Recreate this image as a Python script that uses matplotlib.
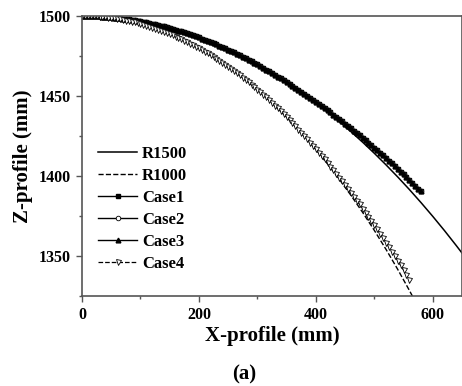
import numpy as np
import matplotlib
matplotlib.use("Agg")
import matplotlib.pyplot as plt
from matplotlib.ticker import MultipleLocator

plt.rcParams['font.family'] = ['Liberation Serif', 'DejaVu Serif']
plt.rcParams['font.weight'] = 'bold'

# R1500 reference curve
r1500_x = [0, 20, 40, 60, 80, 100, 120, 140, 160, 180, 200, 220, 240, 260, 280, 300,
           320, 340, 360, 380, 400, 420, 440, 460, 480, 500, 520, 540, 560, 580, 600,
           620, 640, 650]
r1500_z = [1500.0, 1499.87, 1499.47, 1498.80, 1497.87, 1496.66, 1495.19, 1493.45, 1491.44,
           1489.16, 1486.61, 1483.78, 1480.68, 1477.30, 1473.64, 1469.69, 1465.46, 1460.96,
           1456.16, 1451.07, 1445.68, 1440.00, 1434.01, 1427.72, 1421.13, 1414.21, 1406.98,
           1399.43, 1391.55, 1383.33, 1374.77, 1365.88, 1356.61, 1351.85]

# R1000 reference curve
r1000_x = [0, 20, 40, 60, 80, 100, 120, 140, 160, 180, 200, 220, 240, 260, 280, 300,
           320, 340, 360, 380, 400, 420, 440, 460, 480, 500, 520, 540, 560, 570]
r1000_z = [1500.0, 1499.80, 1499.20, 1498.20, 1496.79, 1494.99, 1492.77, 1490.15, 1487.12,
           1483.67, 1479.80, 1475.50, 1470.77, 1465.60, 1460.00, 1453.94, 1447.42, 1440.43,
           1432.95, 1424.98, 1416.52, 1407.52, 1398.00, 1387.92, 1377.27, 1366.03, 1354.17,
           1341.67, 1328.49, 1321.6]

# Case1-3 (on top of each other in the figure), x = 0..580 step 5
case_x = list(range(0, 585, 5))
case1_z = [
    1500.0, 1499.99, 1499.97, 1499.92, 1499.87, 1499.79, 1499.70, 1499.59, 1499.47, 1499.33,
    1499.17, 1498.99, 1498.80, 1498.59, 1498.37, 1498.12, 1497.87, 1497.59, 1497.30, 1496.99,
    1496.66, 1496.32, 1495.96, 1495.59, 1495.19, 1494.78, 1494.36, 1493.91, 1493.45, 1492.98,
    1492.48, 1491.97, 1491.44, 1490.90, 1490.34, 1489.76, 1489.16, 1488.55, 1487.92, 1487.27,
    1486.61, 1485.93, 1485.23, 1484.51, 1483.78, 1483.03, 1482.26, 1481.48, 1480.68, 1479.86,
    1479.02, 1478.17, 1477.30, 1476.41, 1475.50, 1474.58, 1473.64, 1472.68, 1471.70, 1470.71,
    1469.69, 1468.67, 1467.62, 1466.56, 1465.46, 1464.38, 1463.25, 1462.12, 1460.96, 1459.84,
    1458.70, 1457.54, 1456.40, 1455.19, 1454.00, 1452.75, 1451.47, 1450.20, 1448.91, 1447.65,
    1446.38, 1445.09, 1443.78, 1442.45, 1441.10, 1439.73, 1438.35, 1436.94, 1435.51, 1434.12,
    1432.71, 1431.28, 1429.82, 1428.35, 1426.86, 1425.36, 1423.83, 1422.28, 1420.71, 1419.17,
    1417.61, 1416.04, 1414.44, 1412.82, 1411.18, 1409.53, 1407.85, 1406.15, 1404.43, 1402.75,
    1401.03, 1399.31, 1397.55, 1395.78, 1393.98, 1392.17, 1390.33]
case2_z = case1_z
case3_z = case1_z

# Case4, x = 0..560 step 5
case4_x = list(range(0, 565, 5))
case4_z = [
    1500.0, 1499.99, 1499.95, 1499.89, 1499.80, 1499.69, 1499.55, 1499.39, 1499.20, 1498.99,
    1498.75, 1498.49, 1498.20, 1497.89, 1497.55, 1497.18, 1496.79, 1496.38, 1495.94, 1495.48,
    1494.99, 1494.47, 1493.93, 1493.37, 1492.77, 1492.16, 1491.51, 1490.85, 1490.15, 1489.43,
    1488.69, 1487.92, 1487.12, 1486.29, 1485.44, 1484.57, 1483.67, 1482.74, 1481.78, 1480.80,
    1479.80, 1478.76, 1477.70, 1476.61, 1475.50, 1474.35, 1473.18, 1471.99, 1470.77, 1469.52,
    1468.25, 1466.94, 1465.60, 1464.24, 1462.86, 1461.44, 1460.00, 1458.53, 1457.03, 1455.50,
    1453.94, 1452.35, 1450.74, 1449.09, 1447.42, 1445.71, 1443.98, 1442.22, 1440.43, 1438.60,
    1436.75, 1434.87, 1432.95, 1431.00, 1429.03, 1427.02, 1424.98, 1422.91, 1420.81, 1418.78,
    1416.72, 1414.62, 1412.49, 1410.32, 1408.12, 1405.89, 1403.63, 1401.33, 1399.00, 1396.68,
    1394.33, 1391.94, 1389.52, 1387.11, 1384.67, 1382.19, 1379.67, 1377.11, 1374.52, 1371.89,
    1369.23, 1366.57, 1363.87, 1361.14, 1358.37, 1355.60, 1352.80, 1349.95, 1347.07, 1344.14,
    1341.16, 1338.15, 1335.09]

fig = plt.figure(figsize=(4.62, 3.86), dpi=100)
ax = fig.add_axes([82 / 462, 1 - 296 / 386, 380 / 462, 280 / 386])

ax.plot(r1500_x, r1500_z, '-', color='black', lw=1.1, label='R1500')
ax.plot(r1000_x, r1000_z, '--', color='black', lw=1.0, label='R1000')
ax.plot(case_x, case1_z, '-', color='black', lw=1.0, marker='s', ms=3.2, label='Case1')
ax.plot(case_x, case2_z, '-', color='black', lw=1.0, marker='o', ms=3.3,
        mfc='white', mew=0.6, label='Case2')
ax.plot(case_x, case3_z, '-', color='black', lw=1.0, marker='^', ms=3.4, label='Case3')
ax.plot(case4_x, case4_z, '--', color='black', lw=0.9, marker='v', ms=3.6,
        mfc='white', mew=0.6, label='Case4')

ax.set_xlim(0, 650)
ax.set_ylim(1325, 1500)
ax.xaxis.set_major_locator(MultipleLocator(200))
ax.xaxis.set_minor_locator(MultipleLocator(100))
ax.yaxis.set_minor_locator(MultipleLocator(25))
ax.set_yticks([1350, 1400, 1450, 1500])

for s in ax.spines.values():
    s.set_color('#555555')
    s.set_linewidth(1.2)
ax.tick_params(which='major', direction='out', length=4, width=1, color='#555555',
               labelsize=11.5, pad=4)
ax.tick_params(which='minor', direction='out', length=2.5, width=1, color='#555555')
for lab in ax.get_xticklabels() + ax.get_yticklabels():
    lab.set_fontweight('bold')

ax.set_xlabel('X-profile (mm)', fontsize=15, fontweight='bold', labelpad=2)
ax.set_ylabel('Z-profile (mm)', fontsize=15, fontweight='bold', labelpad=4)

leg = ax.legend(loc='lower left', bbox_to_anchor=(0.042, 0.085), frameon=False,
                fontsize=12, handlelength=2.35, handletextpad=0.3, labelspacing=0.36,
                borderpad=0, borderaxespad=0, numpoints=1)
for t in leg.get_texts():
    t.set_fontweight('bold')

fig.text(244 / 462, 1 - 374 / 386, '(a)', fontsize=15, fontweight='bold',
         ha='center', va='center')

fig.savefig('out.png', dpi=100)
